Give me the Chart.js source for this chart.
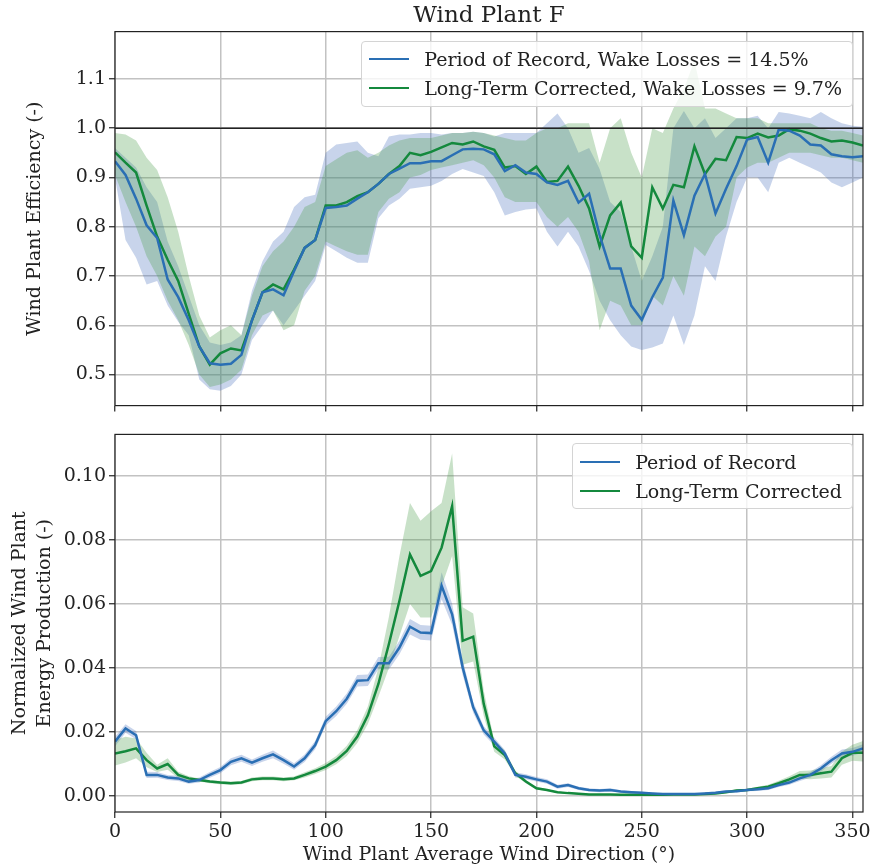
<!DOCTYPE html>
<html>
<head>
<meta charset="utf-8">
<title>Wind Plant F</title>
<script src="https://cdn.jsdelivr.net/npm/chart.js@4.4.1/dist/chart.umd.min.js"></script>
<style>
  body { margin: 0; background: #fff; }
  #wrap { position: relative; width: 875px; height: 866px; font-family: 'DejaVu Serif', serif; color: #222; }
  canvas { position: absolute; left: 0; }
  #eff { top: 0; }
  #prod { top: 420px; }
  .legend { position: absolute; background: rgba(255,255,255,0.8); border: 1px solid #d4d4d4; border-radius: 4px; padding: 3px 10px 3px 7px; font-size: 19px; }
  .legend .row { display: flex; align-items: center; height: 29px; white-space: nowrap; }
  .legend .swatch { display: inline-block; width: 40px; height: 2.5px; margin-right: 15px; }
</style>
</head>
<body>
<div id="wrap">
  <canvas id="eff" width="875" height="420"></canvas>
  <canvas id="prod" width="875" height="446"></canvas>
</div>
<script>
// wind direction bins (deg)
var dirs = [0,5,10,15,20,25,30,35,40,45,50,55,60,65,70,75,80,85,90,95,
  100,105,110,115,120,125,130,135,140,145,150,155,160,165,170,175,180,185,190,195,
  200,205,210,215,220,225,230,235,240,245,250,255,260,265,270,275,280,285,290,295,
  300,305,310,315,320,325,330,335,340,345,350,355];

// wind plant efficiency, period of record
var effPor = [0.933,0.905,0.857,0.803,0.777,0.693,0.657,0.61,0.557,0.523,
  0.52,0.522,0.54,0.61,0.667,0.673,0.661,0.71,0.757,0.773,
  0.838,0.84,0.843,0.857,0.87,0.887,0.907,0.918,0.929,0.929,
  0.933,0.933,0.945,0.957,0.958,0.957,0.947,0.913,0.925,0.91,
  0.907,0.89,0.885,0.893,0.849,0.867,0.783,0.715,0.715,0.64,
  0.611,0.657,0.697,0.853,0.783,0.863,0.907,0.827,0.877,0.923,
  0.977,0.982,0.93,0.997,0.995,0.985,0.967,0.965,0.947,0.943,
  0.941,0.943];
var effPorLo = [0.9,0.773,0.737,0.683,0.69,0.64,0.607,0.58,0.49,0.47,
  0.467,0.477,0.5,0.57,0.6,0.63,0.6,0.63,0.66,0.69,
  0.763,0.75,0.737,0.727,0.727,0.817,0.843,0.857,0.877,0.88,
  0.883,0.893,0.907,0.917,0.91,0.903,0.87,0.823,0.83,0.835,
  0.837,0.79,0.76,0.79,0.76,0.71,0.65,0.61,0.58,0.557,
  0.55,0.555,0.563,0.62,0.56,0.62,0.72,0.69,0.78,0.85,
  0.9,0.9,0.87,0.93,0.94,0.93,0.92,0.91,0.89,0.88,
  0.89,0.9];
var effPorHi = [0.96,0.94,0.92,0.88,0.85,0.77,0.72,0.66,0.6,0.565,
  0.56,0.565,0.58,0.67,0.73,0.77,0.79,0.84,0.86,0.865,
  0.95,0.967,0.97,0.973,0.95,0.943,0.983,0.987,0.987,0.99,
  0.99,0.987,0.99,0.99,0.993,0.99,0.983,0.99,0.99,0.99,
  0.99,1.01,1.03,1.0,0.95,0.96,0.917,0.85,0.83,0.76,
  0.69,0.74,0.8,1.0,1.035,1.0,1.02,0.98,1.0,1.02,
  1.02,1.025,1.0,1.033,1.03,1.025,1.02,1.033,1.02,1.01,
  1.005,1.003];

// wind plant efficiency, long-term corrected
var effLtc = [0.951,0.93,0.91,0.843,0.78,0.733,0.69,0.623,0.557,0.52,
  0.543,0.553,0.549,0.61,0.667,0.683,0.673,0.713,0.757,0.773,
  0.843,0.843,0.85,0.862,0.87,0.887,0.907,0.923,0.95,0.945,
  0.952,0.961,0.97,0.967,0.973,0.963,0.956,0.92,0.923,0.907,
  0.922,0.891,0.893,0.922,0.883,0.837,0.76,0.823,0.849,0.76,
  0.737,0.88,0.837,0.885,0.88,0.963,0.907,0.938,0.935,0.982,
  0.98,0.989,0.981,0.985,0.998,0.995,0.989,0.98,0.973,0.975,
  0.971,0.965];
var effLtcLo = [0.905,0.85,0.8,0.74,0.7,0.65,0.61,0.56,0.5,0.475,
  0.48,0.49,0.51,0.58,0.62,0.63,0.59,0.6,0.67,0.7,
  0.77,0.76,0.75,0.743,0.743,0.83,0.857,0.87,0.9,0.905,
  0.915,0.92,0.925,0.93,0.935,0.925,0.9,0.86,0.85,0.85,
  0.85,0.82,0.8,0.82,0.79,0.73,0.59,0.65,0.64,0.6,
  0.6,0.66,0.64,0.7,0.66,0.76,0.74,0.78,0.8,0.9,
  0.92,0.93,0.93,0.94,0.95,0.95,0.95,0.945,0.94,0.94,
  0.935,0.93];
var effLtcHi = [0.99,0.987,0.975,0.94,0.915,0.86,0.79,0.7,0.62,0.575,
  0.59,0.6,0.58,0.66,0.72,0.75,0.77,0.8,0.84,0.85,
  0.923,0.937,0.95,0.955,0.94,0.95,0.965,0.975,0.98,0.98,
  0.98,0.985,0.99,0.99,0.993,0.99,0.985,0.98,0.975,0.975,
  0.99,1.0,1.0,1.01,1.01,1.01,0.93,1.0,1.02,0.95,
  0.9,1.0,0.99,1.04,1.08,1.137,1.04,1.04,1.03,1.02,
  1.02,1.02,1.01,1.01,1.01,1.01,1.01,1.0,0.995,0.995,
  0.99,0.985];

// normalized energy production, period of record
var prodPor = [0.017,0.0211,0.019,0.0066,0.0066,0.0058,0.0055,0.0045,0.005,0.0066,
  0.0081,0.0107,0.0118,0.0104,0.0118,0.013,0.0112,0.0092,0.0118,0.0159,
  0.0234,0.0265,0.0304,0.036,0.0362,0.0415,0.0415,0.0464,0.0529,0.0511,
  0.0509,0.0657,0.0568,0.0402,0.0277,0.0205,0.017,0.0133,0.0066,0.006,
  0.0052,0.0045,0.0029,0.0034,0.0024,0.0019,0.0017,0.0019,0.0014,0.0012,
  0.001,0.0008,0.0006,0.0006,0.0006,0.0006,0.0008,0.001,0.0014,0.0015,
  0.0019,0.0021,0.0024,0.0034,0.0042,0.0055,0.0066,0.0086,0.0112,0.0133,
  0.0138,0.0149];
var prodPorLo = [0.0155,0.0198,0.0177,0.0056,0.0057,0.005,0.0047,0.0038,0.0042,0.0057,
  0.0071,0.0096,0.0107,0.0094,0.0107,0.0118,0.0101,0.0082,0.0106,0.0146,
  0.022,0.025,0.0288,0.0342,0.0344,0.0396,0.0395,0.0443,0.0505,0.0488,
  0.0486,0.0615,0.0535,0.0378,0.026,0.0192,0.0158,0.0122,0.0058,0.0052,
  0.0045,0.0038,0.0023,0.0028,0.0019,0.0014,0.0012,0.0014,0.001,0.0008,
  0.0007,0.0005,0.0004,0.0004,0.0004,0.0004,0.0005,0.0007,0.001,0.0011,
  0.0015,0.0016,0.0019,0.0028,0.0035,0.0047,0.0057,0.0076,0.0101,0.0121,
  0.0126,0.0136];
var prodPorHi = [0.0185,0.0224,0.0203,0.0076,0.0075,0.0066,0.0063,0.0052,0.0058,0.0075,
  0.0091,0.0118,0.0129,0.0114,0.0129,0.0142,0.0123,0.0102,0.013,0.0172,
  0.0248,0.028,0.032,0.0378,0.038,0.0434,0.0435,0.0485,0.0553,0.0534,
  0.0532,0.0699,0.0601,0.0426,0.0294,0.0218,0.0182,0.0144,0.0074,0.0068,
  0.0059,0.0052,0.0035,0.004,0.0029,0.0024,0.0022,0.0024,0.0018,0.0016,
  0.0013,0.0011,0.0008,0.0008,0.0008,0.0008,0.0011,0.0013,0.0018,0.0019,
  0.0023,0.0026,0.0029,0.004,0.0049,0.0063,0.0075,0.0096,0.0123,0.0145,
  0.015,0.0162];

// normalized energy production, long-term corrected
var prodLtc = [0.0133,0.014,0.0149,0.0112,0.0086,0.01,0.0066,0.0055,0.005,0.0045,
  0.0042,0.004,0.0042,0.0052,0.0055,0.0055,0.0052,0.0055,0.0066,0.0078,
  0.0092,0.0112,0.0141,0.0186,0.0252,0.035,0.0475,0.061,0.0755,0.0688,
  0.0703,0.0776,0.0906,0.0485,0.0498,0.0288,0.0155,0.0128,0.0071,0.0045,
  0.0024,0.0019,0.0012,0.0009,0.0007,0.0005,0.0005,0.0005,0.0004,0.0004,
  0.0004,0.0004,0.0004,0.0005,0.0005,0.0005,0.0006,0.0008,0.0012,0.0017,
  0.0019,0.0024,0.0029,0.004,0.0052,0.0066,0.0066,0.0071,0.0076,0.0118,
  0.0135,0.0135];
var prodLtcLo = [0.0095,0.0105,0.0118,0.009,0.0075,0.0082,0.0056,0.0048,0.0045,0.004,
  0.0037,0.0035,0.0037,0.0046,0.0049,0.0049,0.0046,0.0049,0.0058,0.0069,
  0.0081,0.0099,0.0125,0.0166,0.0225,0.031,0.04,0.05,0.06,0.0558,
  0.0558,0.0655,0.075,0.041,0.042,0.025,0.0138,0.0114,0.0063,0.004,
  0.002,0.0016,0.001,0.0007,0.0005,0.0004,0.0004,0.0004,0.0003,0.0003,
  0.0003,0.0003,0.0003,0.0004,0.0004,0.0004,0.0004,0.0006,0.0009,0.0013,
  0.0015,0.0019,0.0023,0.0032,0.0042,0.0054,0.0052,0.0055,0.0058,0.0098,
  0.011,0.0108];
var prodLtcHi = [0.0175,0.0185,0.018,0.0135,0.0098,0.0118,0.0076,0.0062,0.0055,0.005,
  0.0047,0.0045,0.0047,0.0058,0.0061,0.0061,0.0058,0.0061,0.0074,0.0087,
  0.0103,0.0125,0.0157,0.0206,0.028,0.04,0.056,0.075,0.0916,0.086,
  0.089,0.0916,0.107,0.059,0.057,0.033,0.0172,0.0142,0.0079,0.005,
  0.0028,0.0022,0.0014,0.0011,0.0009,0.0006,0.0006,0.0006,0.0005,0.0005,
  0.0005,0.0005,0.0005,0.0006,0.0006,0.0006,0.0008,0.001,0.0015,0.0021,
  0.0023,0.0029,0.0035,0.0048,0.0062,0.0078,0.008,0.0087,0.0094,0.0138,
  0.016,0.0172];

var unityX = [0, 355];
var unityY = [1, 1];

var porColor = '#2a6fb4';
var ltcColor = '#14893d';
var porBand = 'rgba(72,112,188,0.3)';
var ltcBand = 'rgba(72,155,72,0.3)';
var gridColor = '#c2c2c2';

Chart.defaults.font.family = "'DejaVu Serif', serif";
Chart.defaults.font.size = 19;
Chart.defaults.color = '#222';

function points(values) {
  return dirs.map(function(d, i) { return {x: d, y: values[i]}; });
}

function band(values, color, fill) {
  return {data: points(values), borderColor: 'rgba(0,0,0,0)', borderWidth: 0,
    backgroundColor: color, fill: fill, pointRadius: 0, tension: 0, order: 2};
}

function line(label, values, color) {
  return {label: label, data: points(values), borderColor: color, borderWidth: 2.5,
    pointRadius: 0, fill: false, tension: 0, order: 1, inLegend: true};
}

// matplotlib style box round the plot
var framePlugin = {
  id: 'frame',
  afterDraw: function(chart) {
    var a = chart.chartArea, c = chart.ctx;
    c.save();
    c.strokeStyle = '#222';
    c.lineWidth = 1.2;
    c.strokeRect(a.left, a.top, a.right - a.left, a.bottom - a.top);
    c.restore();
  }
};

function buildOptions(cfg) {
  return {
    responsive: false,
    animation: false,
    devicePixelRatio: 1,
    layout: {padding: {top: cfg.padTop, right: 12, left: 0, bottom: 0}},
    plugins: {
      legend: {display: false},
      tooltip: {enabled: false},
      title: cfg.title
    },
    scales: {
      x: {
        type: 'linear', min: 0, max: 355,
        ticks: {display: cfg.xLabels, stepSize: 50, includeBounds: false, padding: 3},
        grid: {color: gridColor, lineWidth: 1.5, tickLength: 6, tickColor: '#222', tickWidth: 1.2},
        border: {display: false},
        title: {display: cfg.xLabels, text: 'Wind Plant Average Wind Direction (°)', padding: {top: 0, bottom: 0}},
        afterFit: function(s) { s.height = cfg.xHeight; }
      },
      y: {
        min: cfg.yMin, max: cfg.yMax,
        ticks: {stepSize: cfg.yStep, includeBounds: false, padding: 3,
          callback: function(v) { return v.toFixed(cfg.digits); }},
        grid: {color: gridColor, lineWidth: 1.5, tickLength: 6, tickColor: '#222', tickWidth: 1.2},
        border: {display: false},
        title: {display: true, text: cfg.yTitle, font: {size: 19, lineHeight: 1.3},
          padding: {top: cfg.yTitlePad, bottom: 0}},
        afterFit: function(s) { s.width = 115; }
      }
    }
  };
}

function addLegend(chart, canvasTop) {
  var box = document.createElement('div');
  box.className = 'legend';
  chart.data.datasets.forEach(function(ds) {
    if (!ds.inLegend) return;
    var row = document.createElement('div');
    row.className = 'row';
    var sw = document.createElement('span');
    sw.className = 'swatch';
    sw.style.background = ds.borderColor;
    var txt = document.createElement('span');
    txt.textContent = ds.label;
    row.appendChild(sw);
    row.appendChild(txt);
    box.appendChild(row);
  });
  box.style.right = (875 - chart.chartArea.right + 10) + 'px';
  box.style.top = (canvasTop + chart.chartArea.top + 9) + 'px';
  document.getElementById('wrap').appendChild(box);
}

// green bands listed first so they are painted over the blue ones
var effChart = new Chart(document.getElementById('eff').getContext('2d'), {
  type: 'line',
  data: {
    datasets: [
      band(effLtcHi, ltcBand, '+1'),
      band(effLtcLo, ltcBand, false),
      band(effPorHi, porBand, '+1'),
      band(effPorLo, porBand, false),
      line('Period of Record, Wake Losses = 14.5%', effPor, porColor),
      line('Long-Term Corrected, Wake Losses = 9.7%', effLtc, ltcColor),
      {data: unityX.map(function(x, i) { return {x: x, y: unityY[i]}; }),
        borderColor: '#222', borderWidth: 1.6, pointRadius: 0, fill: false, order: 0}
    ]
  },
  options: buildOptions({
    padTop: 0, xLabels: false, xHeight: 12,
    yMin: 0.437, yMax: 1.196, yStep: 0.1, digits: 1,
    yTitle: 'Wind Plant Efficiency (-)', yTitlePad: 23,
    title: {display: true, text: 'Wind Plant F', fullSize: false, color: '#222',
      font: {size: 23, weight: 'normal'}, padding: {top: 2, bottom: 2}}
  }),
  plugins: [framePlugin]
});

var prodChart = new Chart(document.getElementById('prod').getContext('2d'), {
  type: 'line',
  data: {
    datasets: [
      band(prodLtcHi, ltcBand, '+1'),
      band(prodLtcLo, ltcBand, false),
      band(prodPorHi, porBand, '+1'),
      band(prodPorLo, porBand, false),
      line('Period of Record', prodPor, porColor),
      line('Long-Term Corrected', prodLtc, ltcColor)
    ]
  },
  options: buildOptions({
    padTop: 14, xLabels: true, xHeight: 54,
    yMin: -0.005, yMax: 0.113, yStep: 0.02, digits: 2,
    yTitle: ['Normalized Wind Plant', 'Energy Production (-)'], yTitlePad: 8,
    title: {display: false}
  }),
  plugins: [framePlugin]
});

addLegend(effChart, 0);
addLegend(prodChart, 420);
</script>
</body>
</html>
